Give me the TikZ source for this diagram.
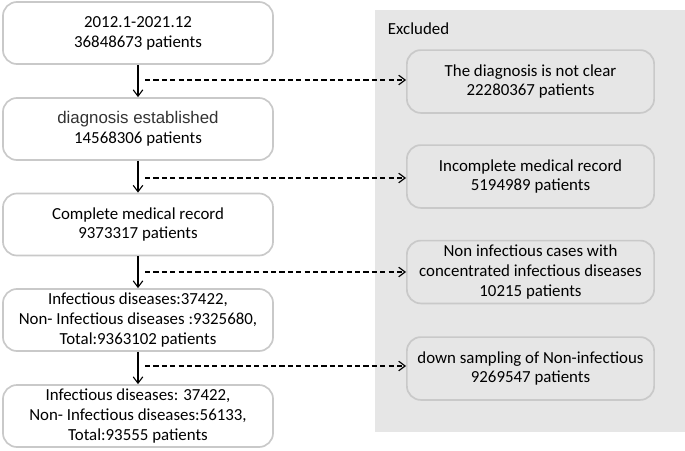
\documentclass[tikz,border=0pt]{standalone}
\usepackage{fontspec}
\setmainfont{Carlito}
\newfontfamily\arialfont{Liberation Sans}
\usepackage{xcolor}
\usetikzlibrary{arrows.meta,positioning,calc}
\definecolor{panelgray}{HTML}{E6E6E6}
\definecolor{boxline}{HTML}{C9C9C9}

\begin{document}
\begin{tikzpicture}[
  x=0.025cm,y=-0.025cm,
  stage/.style={draw=boxline,line width=1.2pt,rounded corners=3.5mm,fill=white,
    minimum width=6.75cm,minimum height=1.55cm,align=center,inner sep=1pt,
    font=\fontsize{12}{14.2}\selectfont},
  dropped/.style={stage,fill=panelgray,minimum width=6.18cm,minimum height=1.57cm},
  flow/.style={line width=0.8pt,-{Straight Barb[length=1.6mm,width=2.4mm]}},
  excl/.style={flow,dash pattern=on 1.3mm off 0.8mm}
]
\useasboundingbox (0,0) rectangle (685,450);
\fill[panelgray] (375,10) rectangle (685,432);
\node[anchor=west,font=\fontsize{12}{14.2}\selectfont] (excltitle) at (383,29) {Excluded};

% main flow
\node[stage] (s1) at (138,33) {2012.1-2021.12\\36848673 patients};
\node[stage] (s2) at (138,129) {{\arialfont\color{black!80}diagnosis established}\\14568306 patients};
\node[stage] (s3) at (138,224.5) {Complete medical record\\9373317 patients};
\node[stage] (s4) at (138,320) {Infectious diseases:37422,\\Non- Infectious diseases :9325680,\\Total:9363102 patients};
\node[stage] (s5) at (138,416) {Infectious diseases: 37422,\\Non- Infectious diseases:56133,\\Total:93555 patients};

% excluded
\node[dropped] (r1) at (530.5,81.5) {The diagnosis is not clear\\22280367 patients};
\node[dropped] (r2) at (530.5,176.5) {Incomplete medical record\\5194989 patients};
\node[dropped] (r3) at (530.5,272) {Non infectious cases with\\concentrated infectious diseases\\10215 patients};
\node[dropped] (r4) at (530.5,368.5) {down sampling of Non-infectious\\9269547 patients};

\foreach \a/\b in {1/2,2/3,3/4,4/5}{\draw[flow] (s\a) -- (s\b);}
\foreach \n/\y in {1/80,2/178,3/272,4/366}{
  \coordinate (c\n) at (145,\y);
  \draw[excl] (c\n) -- (c\n -| r\n.west);
}
\end{tikzpicture}
\end{document}
